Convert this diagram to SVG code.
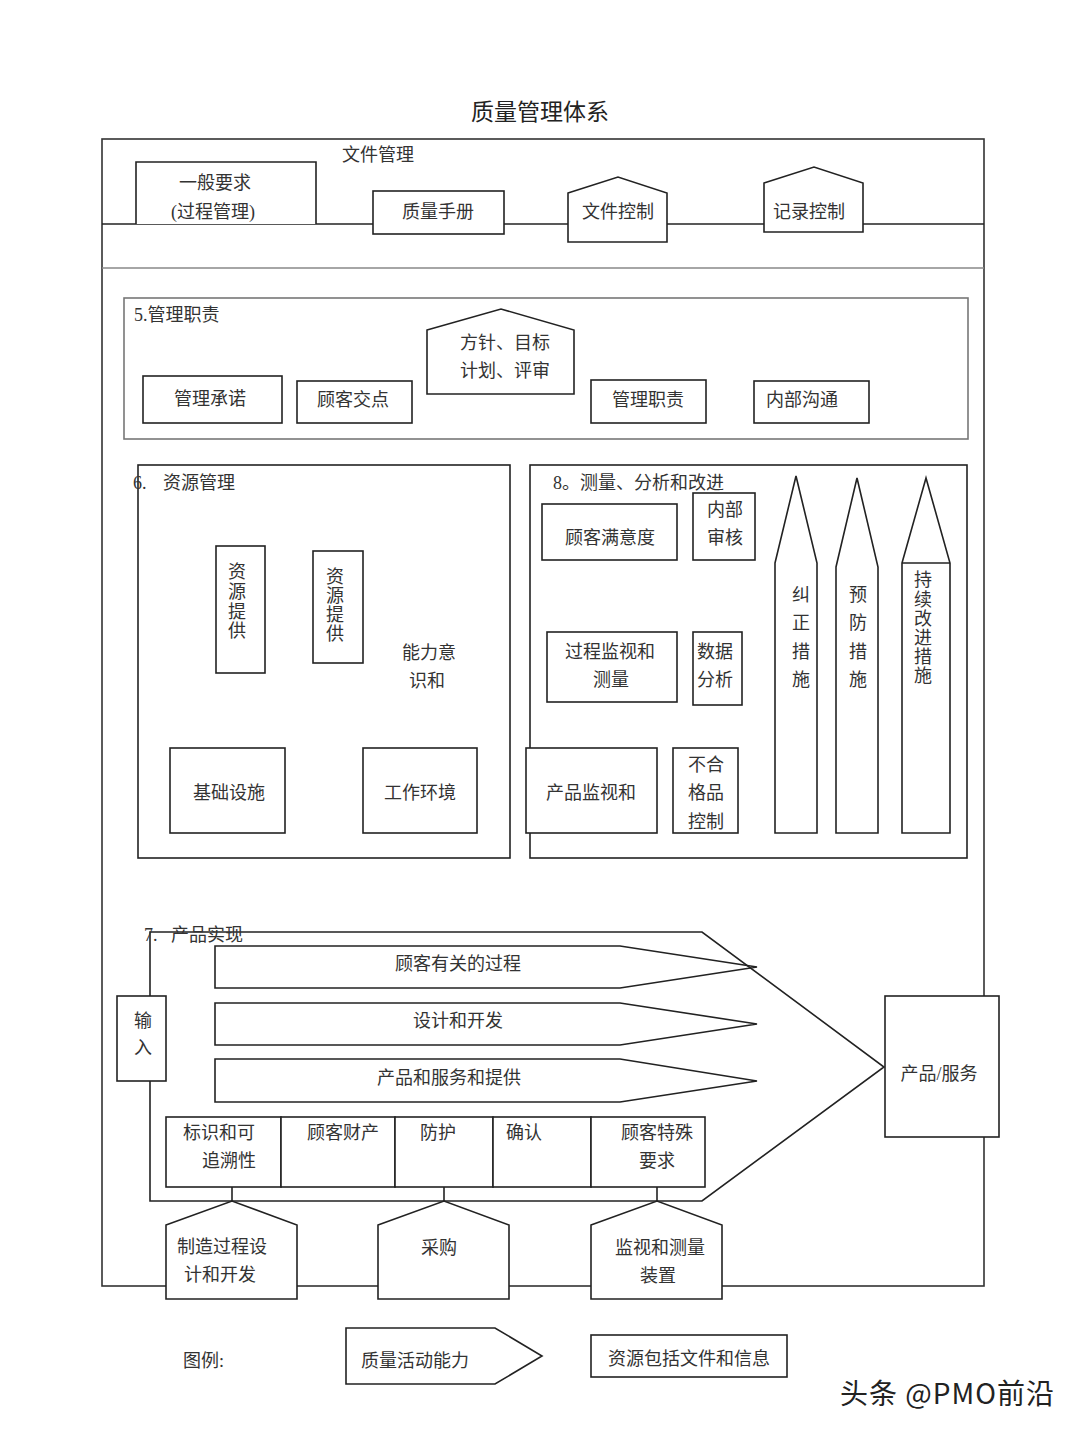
<svg xmlns="http://www.w3.org/2000/svg" width="1080" height="1431" viewBox="0 0 1080 1431">
<style>
.s{fill:#fff;stroke:#222;stroke-width:1.6}
.n{fill:none;stroke:#222;stroke-width:1.6}
.g{fill:none;stroke:#888;stroke-width:1.6}
.t{font-family:"Liberation Serif","Noto Sans CJK SC",sans-serif;font-size:18px;fill:#333;text-anchor:middle;dominant-baseline:central}
.l{text-anchor:start}
</style>
<rect width="1080" height="1431" fill="#fff"/>
<text class="t" x="540" y="112" style="font-size:23px;fill:#222">质量管理体系</text>

<g id="frame">
<rect class="n" x="102" y="139" width="882" height="1147" style="stroke:#333"/>
<line class="n" x1="102" y1="224" x2="984" y2="224"/>
<line class="g" x1="102" y1="268" x2="984" y2="268"/>
</g>

<g id="doc-mgmt">
<text class="t" x="378" y="155">文件管理</text>
<g id="general-req">
<path class="s" d="M136,224 V162 H316 V224"/>
<text class="t" x="215" y="183">一般要求</text>
<text class="t" x="213" y="212">(过程管理)</text>
</g>
<g id="quality-manual">
<rect class="s" x="373" y="191" width="131" height="43"/>
<text class="t" x="438" y="212">质量手册</text>
</g>
<g id="doc-control">
<polygon class="s" points="568,193 618,177 667,193 667,242 568,242"/>
<text class="t" x="618" y="212">文件控制</text>
</g>
<g id="record-control">
<polygon class="s" points="764,183 814,167 863,183 863,232 764,232"/>
<text class="t" x="809" y="212">记录控制</text>
</g>
</g>

<g id="sec5">
<rect class="g" x="124" y="298" width="844" height="141" style="stroke:#777"/>
<text class="t l" x="134" y="315">5.管理职责</text>
<g id="mgmt-commit"><rect class="s" x="143" y="376" width="139" height="47"/><text class="t" x="210" y="399">管理承诺</text></g>
<g id="customer-focus"><rect class="s" x="297" y="381" width="115" height="42"/><text class="t" x="353" y="400">顾客交点</text></g>
<g id="policy"><polygon class="s" points="427,330 501,309 574,330 574,394 427,394"/><text class="t" x="505" y="343">方针、目标</text><text class="t" x="505" y="371">计划、评审</text></g>
<g id="mgmt-resp"><rect class="s" x="591" y="380" width="115" height="43"/><text class="t" x="648" y="400">管理职责</text></g>
<g id="internal-comm"><rect class="s" x="754" y="381" width="115" height="42"/><text class="t" x="802" y="400">内部沟通</text></g>
</g>

<g id="sec6">
<rect class="n" x="138" y="465" width="372" height="393"/>
<text class="t l" x="133" y="483">6.</text>
<text class="t l" x="163" y="483">资源管理</text>
<g id="res-provide-1"><rect class="s" x="216" y="546" width="49" height="127"/>
<text class="t" x="237" y="572">资</text><text class="t" x="237" y="592">源</text><text class="t" x="237" y="612">提</text><text class="t" x="237" y="631">供</text></g>
<g id="res-provide-2"><rect class="s" x="313" y="551" width="50" height="112"/>
<text class="t" x="335" y="577">资</text><text class="t" x="335" y="596">源</text><text class="t" x="335" y="615">提</text><text class="t" x="335" y="634">供</text></g>
<g id="competence"><text class="t" x="429" y="653">能力意</text><text class="t" x="427" y="681">识和</text></g>
<g id="infrastructure"><rect class="s" x="170" y="748" width="115" height="85"/><text class="t" x="229" y="793">基础设施</text></g>
<g id="work-env"><rect class="s" x="363" y="748" width="114" height="85"/><text class="t" x="420" y="793">工作环境</text></g>
</g>

<g id="sec8">
<rect class="n" x="530" y="465" width="437" height="393"/>
<text class="t l" x="553" y="483">8。测量、分析和改进</text>
<g id="cust-sat"><rect class="s" x="542" y="504" width="135" height="56"/><text class="t" x="610" y="538">顾客满意度</text></g>
<g id="internal-audit"><rect class="s" x="693" y="493" width="62" height="67"/><text class="t" x="725" y="510">内部</text><text class="t" x="725" y="538">审核</text></g>
<g id="process-monitor"><rect class="s" x="547" y="632" width="130" height="70"/><text class="t" x="610" y="652">过程监视和</text><text class="t" x="611" y="680">测量</text></g>
<g id="data-analysis"><rect class="s" x="693" y="632" width="49" height="73"/><text class="t" x="715" y="652">数据</text><text class="t" x="715" y="680">分析</text></g>
<g id="product-monitor"><rect class="s" x="526" y="748" width="131" height="85"/><text class="t" x="591" y="793">产品监视和</text></g>
<g id="nonconform"><rect class="s" x="673" y="748" width="65" height="85"/><text class="t" x="706" y="765">不合</text><text class="t" x="706" y="793">格品</text><text class="t" x="706" y="822">控制</text></g>
<g id="corrective"><polygon class="s" points="775,563 796,476 817,563 817,833 775,833"/>
<text class="t" x="801" y="595">纠</text><text class="t" x="801" y="623">正</text><text class="t" x="801" y="652">措</text><text class="t" x="801" y="680">施</text></g>
<g id="preventive"><polygon class="s" points="836,567 857,478 878,567 878,833 836,833"/>
<text class="t" x="858" y="595">预</text><text class="t" x="858" y="623">防</text><text class="t" x="858" y="652">措</text><text class="t" x="858" y="680">施</text></g>
<g id="continual"><polygon class="s" points="902,563 926,478 950,563 950,833 902,833"/><line class="n" x1="902" y1="563" x2="950" y2="563"/>
<text class="t" x="923" y="580">持</text><text class="t" x="923" y="600">续</text><text class="t" x="923" y="619">改</text><text class="t" x="923" y="638">进</text><text class="t" x="923" y="657">措</text><text class="t" x="923" y="676">施</text></g>
</g>

<g id="sec7">
<polygon class="n" points="150,932 702,932 884,1067 702,1201 150,1201"/>
<text class="t l" x="144" y="935">7.</text>
<text class="t l" x="171" y="935">产品实现</text>
<g id="customer-process"><polygon class="n" points="215,946 620,946 757,967 620,988 215,988"/><text class="t" x="458" y="964">顾客有关的过程</text></g>
<g id="design-dev"><polygon class="n" points="215,1003 620,1003 757,1024 620,1045 215,1045"/><text class="t" x="458" y="1021">设计和开发</text></g>
<g id="production"><polygon class="n" points="215,1059 620,1059 757,1081 620,1102 215,1102"/><text class="t" x="449" y="1078">产品和服务和提供</text></g>
<g id="input"><rect class="s" x="117" y="996" width="49" height="85"/><text class="t" x="143" y="1021">输</text><text class="t" x="143" y="1048">入</text></g>
<g id="identification"><rect class="s" x="166" y="1117" width="115" height="70"/><text class="t" x="219" y="1133">标识和可</text><text class="t" x="229" y="1161">追溯性</text></g>
<g id="customer-property"><rect class="s" x="281" y="1117" width="114" height="70"/><text class="t" x="343" y="1133">顾客财产</text></g>
<g id="preservation"><rect class="s" x="395" y="1117" width="98" height="70"/><text class="t" x="438" y="1133">防护</text></g>
<g id="validation"><rect class="s" x="493" y="1117" width="98" height="70"/><text class="t" x="524" y="1133">确认</text></g>
<g id="customer-special"><rect class="s" x="591" y="1117" width="114" height="70"/><text class="t" x="657" y="1133">顾客特殊</text><text class="t" x="657" y="1161">要求</text></g>
<g id="product-service"><rect class="s" x="885" y="996" width="114" height="141"/><text class="t" x="939" y="1074">产品/服务</text></g>
</g>

<g id="connectors">
<line class="n" x1="232" y1="1187" x2="232" y2="1201"/>
<line class="n" x1="444" y1="1187" x2="444" y2="1201"/>
<line class="n" x1="657" y1="1187" x2="657" y2="1201"/>
</g>

<g id="mfg-design"><polygon class="s" points="166,1225 232,1201 297,1225 297,1299 166,1299"/><text class="t" x="222" y="1247">制造过程设</text><text class="t" x="220" y="1275">计和开发</text></g>
<g id="purchasing"><polygon class="s" points="378,1225 444,1201 509,1225 509,1299 378,1299"/><text class="t" x="439" y="1248">采购</text></g>
<g id="measuring-devices"><polygon class="s" points="591,1225 657,1201 722,1225 722,1299 591,1299"/><text class="t" x="660" y="1248">监视和测量</text><text class="t" x="658" y="1276">装置</text></g>

<g id="legend">
<text class="t l" x="183" y="1361">图例:</text>
<g id="legend-activity"><polygon class="s" points="346,1328 495,1328 542,1356 495,1384 346,1384"/><text class="t l" x="361" y="1361">质量活动能力</text></g>
<g id="legend-resource"><rect class="s" x="591" y="1335" width="196" height="42"/><text class="t" x="689" y="1359">资源包括文件和信息</text></g>
</g>

<text class="t l" x="840" y="1392" style="font-family:'Noto Sans CJK SC',sans-serif;font-size:28px;letter-spacing:1px;fill:#222">头条 @PMO前沿</text>
</svg>
